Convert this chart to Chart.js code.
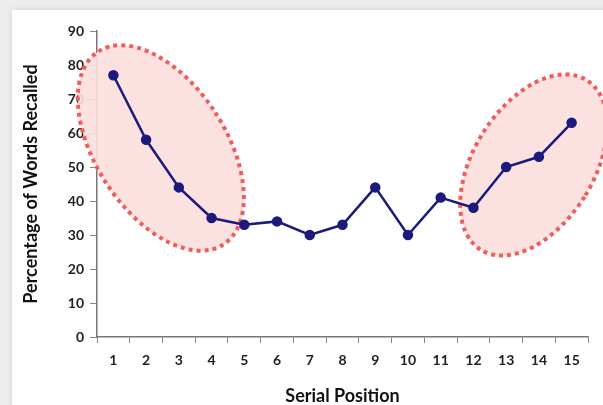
<!DOCTYPE html>
<html>
<head>
<meta charset="utf-8">
<script src="https://cdn.jsdelivr.net/npm/chart.js@4/dist/chart.umd.min.js"></script>
<style>
  html, body { margin: 0; padding: 0; width: 603px; height: 405px; overflow: hidden; background: #ededed; }
  #marco { position: absolute; left: 12px; top: 10px; width: 620px; height: 420px; background: #fff;
           box-shadow: 0 0 6px rgba(0,0,0,0.12); }
  #caja { position: absolute; left: 0; top: 0; width: 603px; height: 405px; }
</style>
</head>
<body>
<div id="marco"></div>
<div id="caja"><canvas id="curva"></canvas></div>
<script>
// Datos del gráfico
const posiciones = ["1", "2", "3", "4", "5", "6", "7", "8", "9", "10", "11", "12", "13", "14", "15"];
const porcentajes = [77, 58, 44, 35, 33, 34, 30, 33, 44, 30, 41, 38, 50, 53, 63];
const marcasY = [0, 10, 20, 30, 40, 50, 60, 70, 80, 90];

// Elipses de primacía y recencia (centro en índice de categoría y valor)
const elipses = [
  { x: 1.45, y: 55.6, rx: 65, ry: 115, giro: -33 },
  { x: 12.84, y: 50.6, rx: 60, ry: 100, giro: 32 }
];

const fuente = "Lato, 'Open Sans', sans-serif";

// Plugin para dibujar las elipses detrás de la línea
const pluginElipses = {
  id: "elipses",
  beforeDatasetsDraw(chart) {
    const ctx = chart.ctx;
    const sx = chart.scales.x, sy = chart.scales.y;
    ctx.save();
    for (const e of elipses) {
      const cx = sx.getPixelForValue(e.x);
      const cy = sy.getPixelForValue(e.y);
      ctx.beginPath();
      ctx.ellipse(cx, cy, e.rx, e.ry, e.giro * Math.PI / 180, 0, Math.PI * 2);
      ctx.fillStyle = "rgba(252, 222, 222, 0.9)";
      ctx.fill();
      ctx.setLineDash([4, 4]);
      ctx.lineWidth = 4;
      ctx.strokeStyle = "#f25c5c";
      ctx.stroke();
    }
    ctx.restore();
  }
};

const ctx = document.getElementById("curva").getContext("2d");
const chart = new Chart(ctx, {
  type: "line",
  data: {
    labels: posiciones,
    datasets: [{
      label: "Recuerdo",
      data: porcentajes,
      borderColor: "#1c1a7c",
      backgroundColor: "#1c1a7c",
      borderWidth: 2.5,
      pointRadius: 4,
      pointHoverRadius: 4,
      tension: 0
    }]
  },
  options: {
    responsive: true,
    maintainAspectRatio: false,
    animation: false,
    layout: { padding: { left: 20, right: 15, top: 31, bottom: 0 } },
    plugins: {
      legend: { display: false },
      tooltip: { enabled: false }
    },
    scales: {
      x: {
        offset: true,
        grid: { offset: true, drawOnChartArea: false, drawTicks: true, tickLength: 6, color: "#888" },
        border: { color: "#777", width: 1.5 },
        ticks: { color: "#222", padding: 9, font: { family: fuente, size: 14, weight: "bold" }, maxRotation: 0 },
        title: { display: true, text: "Serial Position", color: "#111", padding: 0,
                 font: { family: fuente, size: 18, weight: "bold", lineHeight: 1 } },
        afterFit(scale) { scale.height = 68; }
      },
      y: {
        min: 0,
        max: 90,
        afterBuildTicks(scale) { scale.ticks = marcasY.map(v => ({ value: v })); },
        grid: { drawOnChartArea: false, drawTicks: true, tickLength: 7, color: "#888" },
        border: { color: "#777", width: 1.5 },
        ticks: { color: "#222", padding: 6, font: { family: fuente, size: 14, weight: "bold" } },
        title: { display: true, text: "Percentage of Words Recalled", color: "#111", padding: 0,
                 font: { family: fuente, size: 18, weight: "bold" } },
        afterFit(scale) { scale.width = 77; }
      }
    }
  },
  plugins: [pluginElipses]
});
</script>
</body>
</html>
